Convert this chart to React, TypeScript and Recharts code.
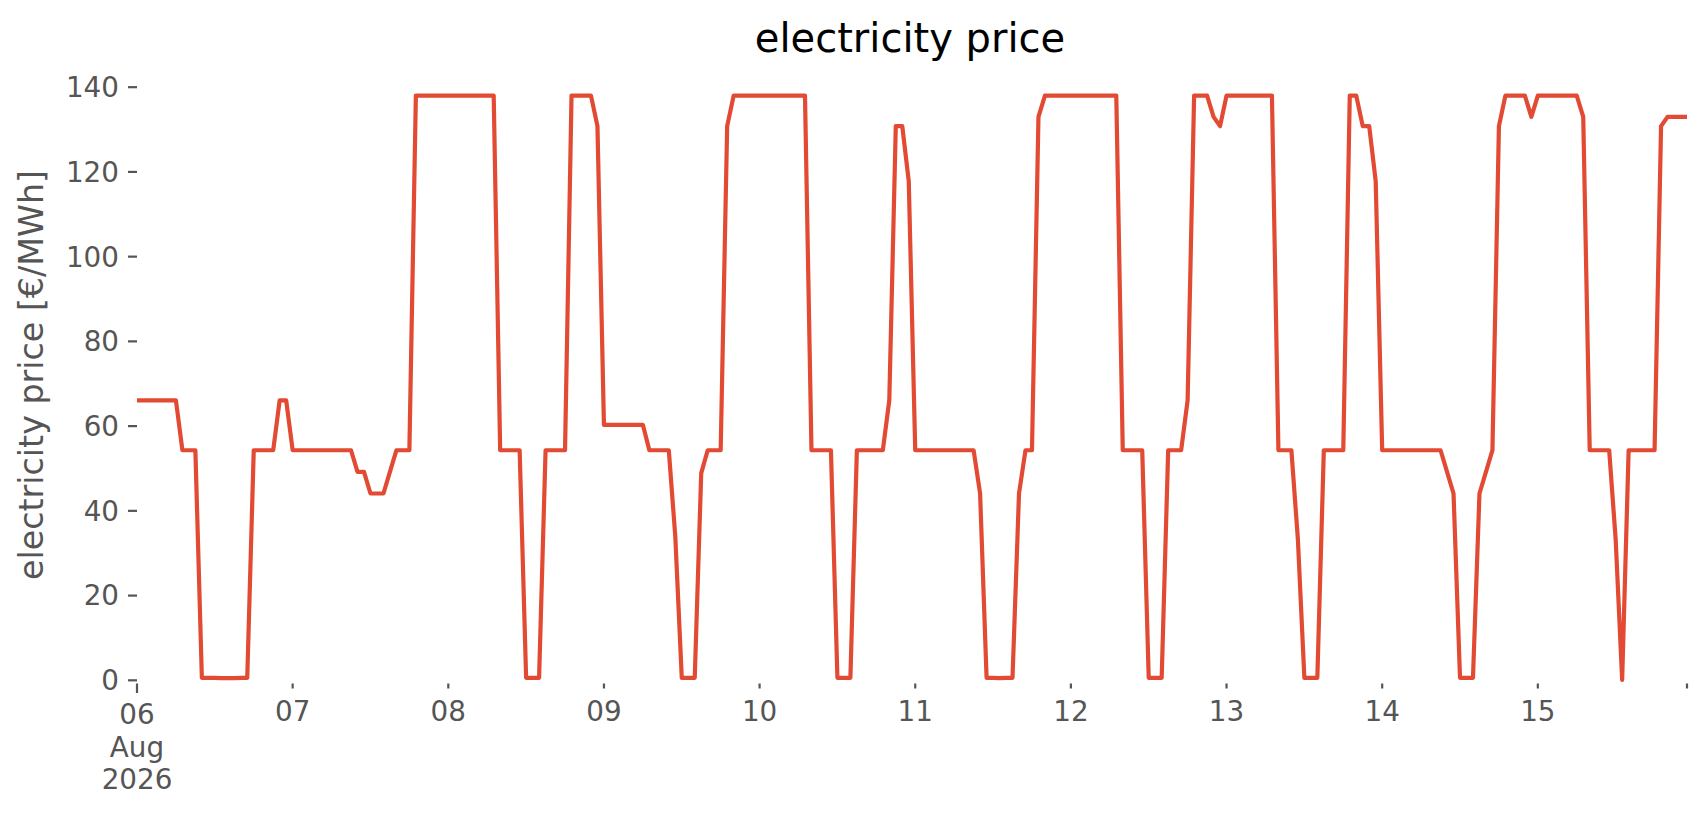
import { Line, LineChart, XAxis, YAxis } from "recharts"

const dayLabels = ["06", "07", "08", "09", "10", "11", "12", "13", "14", "15"]
const firstDaySub = ["Aug", "2026"]
const yTicks = [0, 20, 40, 60, 80, 100, 120, 140]

// hourly prices in €/MWh, one array per day (00:00 .. 23:00)
const aug06 = [66.1, 66.1, 66.1, 66.1, 66.1, 66.1, 66.1, 54.3, 54.3, 54.3, 0.6, 0.6, 0.6, 0.5, 0.5, 0.5, 0.6, 0.6, 54.3, 54.3, 54.3, 54.3, 66.1, 66.1]
const aug07 = [54.3, 54.3, 54.3, 54.3, 54.3, 54.3, 54.3, 54.3, 54.3, 54.3, 49.2, 49.2, 44.1, 44.1, 44.1, 49.2, 54.3, 54.3, 54.3, 138, 138, 138, 138, 138]
const aug08 = [138, 138, 138, 138, 138, 138, 138, 138, 54.3, 54.3, 54.3, 54.3, 0.6, 0.6, 0.6, 54.3, 54.3, 54.3, 54.3, 138, 138, 138, 138, 130.8]
const aug09 = [60.3, 60.3, 60.3, 60.3, 60.3, 60.3, 60.3, 54.3, 54.3, 54.3, 54.3, 34, 0.6, 0.6, 0.6, 48.9, 54.3, 54.3, 54.3, 130.8, 138, 138, 138, 138]
const aug10 = [138, 138, 138, 138, 138, 138, 138, 138, 54.3, 54.3, 54.3, 54.3, 0.6, 0.6, 0.6, 54.3, 54.3, 54.3, 54.3, 54.3, 66.1, 130.8, 130.8, 117.8]
const aug11 = [54.3, 54.3, 54.3, 54.3, 54.3, 54.3, 54.3, 54.3, 54.3, 54.3, 44.1, 0.6, 0.6, 0.5, 0.6, 0.6, 44.1, 54.3, 54.3, 133, 138, 138, 138, 138]
const aug12 = [138, 138, 138, 138, 138, 138, 138, 138, 54.3, 54.3, 54.3, 54.3, 0.6, 0.6, 0.6, 54.3, 54.3, 54.3, 66.1, 138, 138, 138, 133, 130.8]
const aug13 = [138, 138, 138, 138, 138, 138, 138, 138, 54.3, 54.3, 54.3, 33.3, 0.6, 0.6, 0.6, 54.3, 54.3, 54.3, 54.3, 138, 138, 130.8, 130.8, 117.8]
const aug14 = [54.3, 54.3, 54.3, 54.3, 54.3, 54.3, 54.3, 54.3, 54.3, 54.3, 49.2, 44.1, 0.6, 0.6, 0.6, 44.1, 49.2, 54.3, 130.8, 138, 138, 138, 138, 133]
const aug15 = [138, 138, 138, 138, 138, 138, 138, 133, 54.3, 54.3, 54.3, 54.3, 33.3, 0.1, 54.3, 54.3, 54.3, 54.3, 54.3, 130.8, 133, 133, 133, 133]

const prices = [aug06, aug07, aug08, aug09, aug10, aug11, aug12, aug13, aug14, aug15].flat()
const data = prices.map((price, hour) => ({ hour, price }))
const lastHour = prices.length - 1
const xTicks = [...dayLabels.map((_, i) => i * 24), lastHour]

const font = "DejaVu Sans"
const grey = "#555555"

const DayTick = ({ x, y, payload }: any) => {
  const v = payload.value
  const major = v === 0
  const label = v % 24 === 0 ? dayLabels[v / 24] : ""
  return (
    <g>
      <line x1={x} x2={x} y1={y} y2={y + (major ? 9.5 : 5)} stroke={grey} strokeWidth={2.2} />
      {label && (
        <text x={x} y={y + (major ? 40.8 : 37.2)} textAnchor="middle" fill={grey} fontSize={27.8} fontFamily={font}>
          {label}
        </text>
      )}
      {major &&
        firstDaySub.map((s, k) => (
          <text key={s} x={x} y={y + 73.8 + k * 31.7} textAnchor="middle" fill={grey} fontSize={27.8} fontFamily={font}>
            {s}
          </text>
        ))}
    </g>
  )
}

export default function App() {
  return (
    <div style={{ position: "absolute", left: 0, top: 0, width: 1706, height: 815, background: "#fff" }}>
      <LineChart width={1706} height={815} data={data} margin={{ top: 66, right: 19, bottom: 0, left: 0 }}>
        <XAxis
          dataKey="hour"
          type="number"
          domain={[0, lastHour]}
          ticks={xTicks}
          interval={0}
          height={131.5}
          tickSize={0}
          tickMargin={0}
          axisLine={false}
          tickLine={false}
          tick={<DayTick />}
        />
        <YAxis
          type="number"
          domain={[-0.75, 145]}
          allowDataOverflow
          ticks={yTicks}
          interval={0}
          width={137}
          tickSize={9}
          tickMargin={9}
          axisLine={false}
          tickLine={{ stroke: grey, strokeWidth: 2.2 }}
          tick={{ fill: grey, fontSize: 27.8, fontFamily: font }}
        />
        <Line
          type="linear"
          dataKey="price"
          stroke="#E24A33"
          strokeWidth={4.2}
          strokeLinejoin="round"
          dot={false}
          isAnimationActive={false}
        />
      </LineChart>
      <svg width={1706} height={815} style={{ position: "absolute", left: 0, top: 0, pointerEvents: "none" }}>
        <text x={910} y={52} textAnchor="middle" fontSize={40} fontFamily={font} fill="#000">
          electricity price
        </text>
        <text
          x={43.3}
          y={375}
          transform="rotate(-90, 43.3, 375)"
          textAnchor="middle"
          fontSize={33.3}
          fontFamily={font}
          fill={grey}
        >
          electricity price [€/MWh]
        </text>
      </svg>
    </div>
  )
}
